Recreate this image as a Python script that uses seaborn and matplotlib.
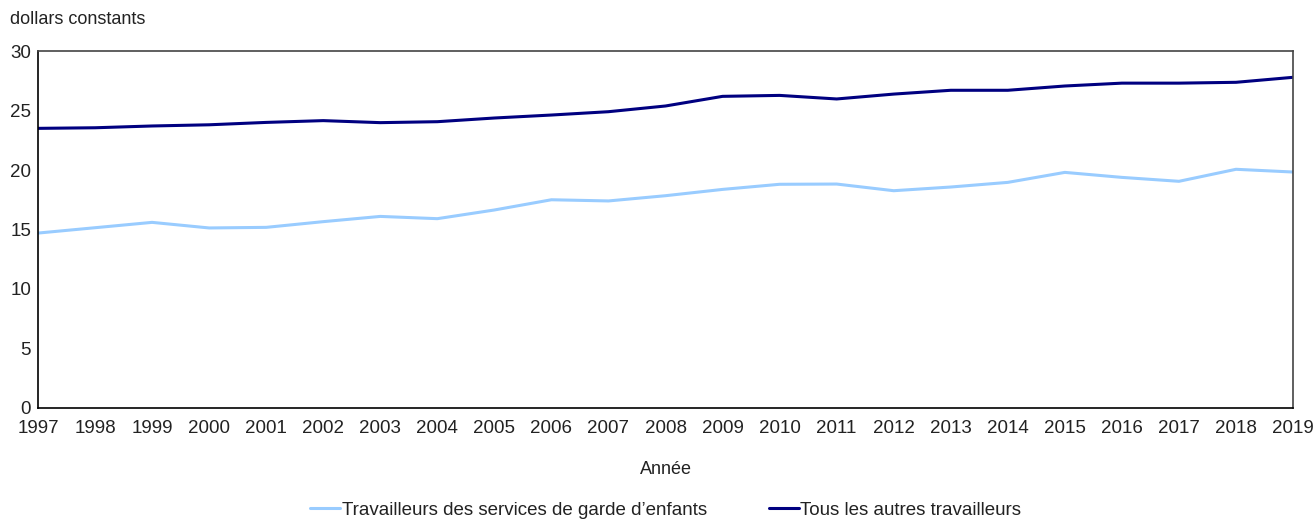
import pandas as pd
import matplotlib.pyplot as plt
import seaborn as sns

years = list(range(1997, 2020))
garde_enfants = [14.7, 15.15, 15.6, 15.13, 15.18, 15.66, 16.1, 15.91, 16.64, 17.5, 17.4, 17.84,
                 18.37, 18.8, 18.82, 18.26, 18.57, 18.96, 19.8, 19.38, 19.05, 20.06, 19.83]
autres = [23.5, 23.55, 23.7, 23.8, 24.0, 24.15, 23.98, 24.06, 24.37, 24.62, 24.9, 25.38,
          26.19, 26.27, 25.97, 26.38, 26.7, 26.7, 27.06, 27.3, 27.3, 27.37, 27.79]
series = ['Travailleurs des services de garde d\u2019enfants', 'Tous les autres travailleurs']
colors = ['#99ccff', '#000080']

df = pd.DataFrame({'Année': years, series[0]: garde_enfants, series[1]: autres})
df = pd.melt(df, id_vars=['Année'], var_name='Groupe', value_name='valeur')

sns.set_style('white')
plt.rcParams['font.family'] = ['Liberation Sans', 'DejaVu Sans']

fig = plt.figure(figsize=(13.15, 5.2), dpi=100)
ax = fig.add_axes([0.0289, 0.2154, 0.9544, 0.6865])
sns.lineplot(data=df, x='Année', y='valeur', hue='Groupe', palette=colors, linewidth=2.2, ax=ax)

ax.set_xlim(1997, 2019)
ax.set_ylim(0, 30)
ax.set_xticks(years)
ax.set_xticklabels([str(y) for y in years])
ax.set_yticks([0, 5, 10, 15, 20, 25, 30])
ax.tick_params(axis='x', direction='in', length=4, width=1, color='black', labelsize=13.5, pad=9, labelcolor='#222222')
ax.tick_params(axis='y', length=0, labelsize=13.5, pad=5, labelcolor='#222222')
for s in ['left', 'bottom']:
    ax.spines[s].set_color('black')
    ax.spines[s].set_linewidth(1.2)
for s in ['top', 'right']:
    ax.spines[s].set_color('#444444')
    ax.spines[s].set_linewidth(1.2)

ax.set_xlabel('Année', fontsize=13, color='#222222', labelpad=17)
ax.set_ylabel('')
fig.text(0.0076, 0.962, 'dollars constants', fontsize=13, color='#222222', va='center', ha='left')

ax.legend(loc='center', bbox_to_anchor=(0.5, -0.286), ncol=2, frameon=False, fontsize=13.5,
          handlelength=1.6, handletextpad=0.1, columnspacing=3.3, labelcolor='#222222')

plt.savefig('out.png', dpi=100)
